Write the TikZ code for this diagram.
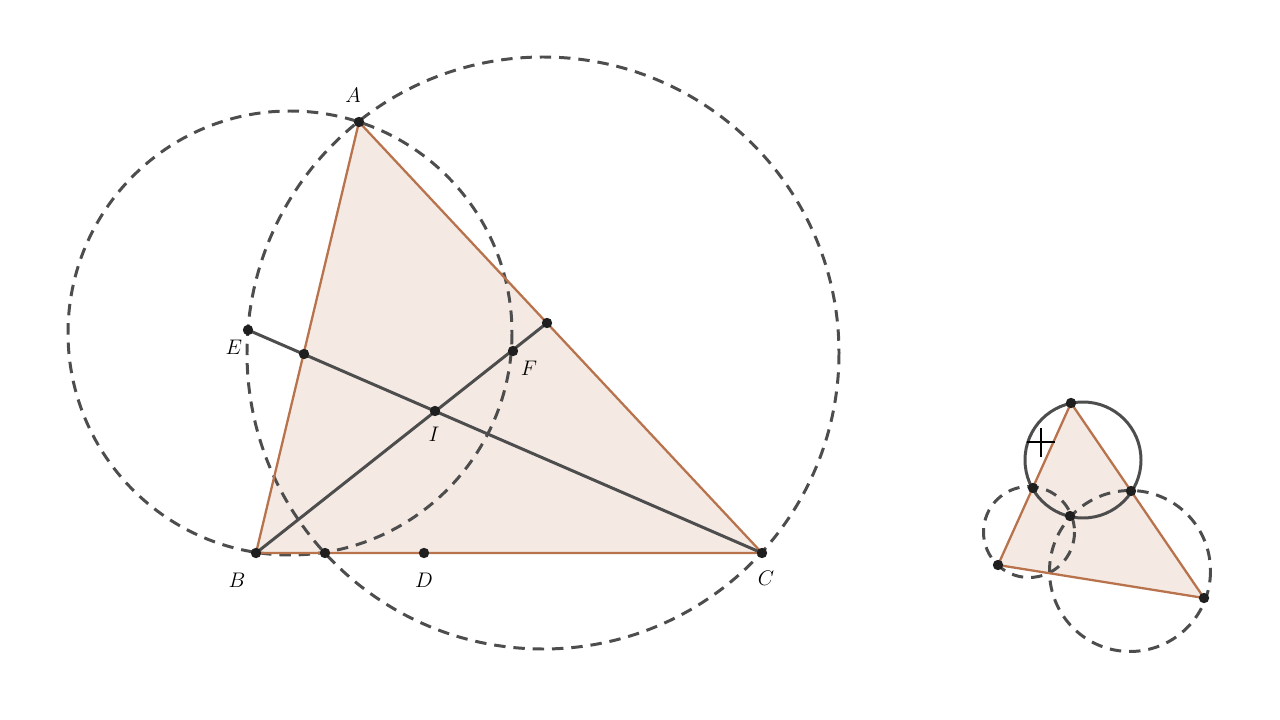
\documentclass[tikz,border=0pt]{standalone}
\usetikzlibrary{positioning}
\definecolor{edge}{RGB}{184,114,76}
\definecolor{face}{RGB}{244,234,227}
\definecolor{gray}{RGB}{77,77,77}
\tikzset{
  circ/.style={gray,line width=1.7pt,dash pattern=on 6.5pt off 4.5pt},
  side/.style={edge,line width=1.3pt,line join=round},
  seg/.style={gray,line width=1.7pt},
  lbl/.style={font=\large}
}
\newcommand{\pt}[1]{\fill[black!88] (#1) circle (5.2);}

\begin{document}
\begin{tikzpicture}[x=0.2mm,y=-0.2mm]
\useasboundingbox (0,0) rectangle (1280,720);
% big figure
\coordinate (A) at (359,122);
\coordinate (B) at (256,553);
\coordinate (C) at (762,553);
\coordinate (D) at (424,553);
\coordinate (E) at (248,330);
\coordinate (F) at (513,351);
\coordinate (I) at (435,411);
\coordinate (G) at (547,323);
\coordinate (H) at (304,354);
\coordinate (K) at (325,553);
\coordinate (O1) at (290,333);
\coordinate (O2) at (543,353);
\fill[face] (A) -- (B) -- (C) -- cycle;
\draw[circ] (O1) circle (222);
\draw[circ] (O2) circle (296);
\draw[side] (A) -- (B) -- (C) -- cycle;
\draw[seg] (E) -- (C);
\draw[seg] (B) -- (G);
\foreach \p in {A,B,C,D,E,F,I,G,H,K} {\pt{\p}}
\node[lbl] (lA) at (353,95) {$A$};
\node[lbl] (lB) at (237,580) {$B$};
\node[lbl] (lC) at (766,578) {$C$};
\node[lbl] (lD) at (424,580) {$D$};
\node[lbl] (lE) at (234,347) {$E$};
\node[lbl] (lF) at (529,368) {$F$};
\node[lbl] (lI) at (434,434) {$I$};
% small figure
\coordinate (P) at (1071,403);
\coordinate (Q) at (998,565);
\coordinate (R) at (1204,598);
\coordinate (S) at (1033,488);
\coordinate (T) at (1131,491);
\coordinate (U) at (1070,516);
\coordinate (O3) at (1083,460);
\coordinate (O4) at (1029,532);
\coordinate (O5) at (1130,571);
\fill[face] (P) -- (Q) -- (R) -- cycle;
\draw[circ] (O4) circle (45.5);
\draw[circ] (O5) circle (80.5);
\draw[seg] (O3) circle (58);
\draw[side] (P) -- (Q) -- (R) -- cycle;
\foreach \p in {P,Q,R,S,T,U} {\pt{\p}}
% cursor
\draw[black,line width=1pt] (1027,442) -- (1055,442) (1041,428) -- (1041,457);
\end{tikzpicture}
\end{document}
